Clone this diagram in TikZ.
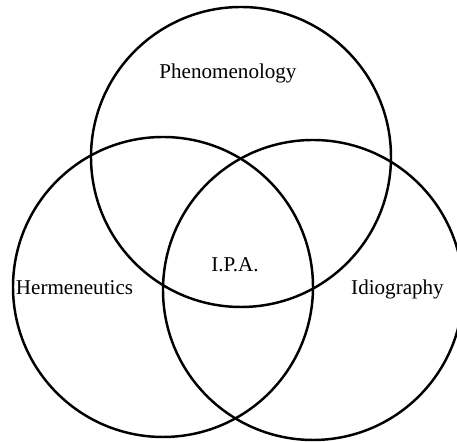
\documentclass[tikz,border=0pt]{standalone}
\usepackage{fontspec}
\setmainfont{Liberation Serif}
\tikzset{label text/.style={anchor=base,font=\fontsize{12pt}{14pt}\selectfont}}
\begin{document}
\begin{tikzpicture}
\useasboundingbox (0,0) rectangle (9.14,8.84);

%Circles
\foreach \x/\y in
{
4.82/5.70,
3.26/3.10,
6.26/3.04
}
{
	\draw[line width=1.4pt] (\x,\y) circle (3);
}

%Labels
\node[label text] (phen) at (4.56,7.26) {Phenomenology};
\node[label text] (herm) at (1.49,2.94) {Hermeneutics};
\node[label text] (idio) at (7.95,2.94) {Idiography};
\node[label text] (ipa) at (4.70,3.40) {I.P.A.};

\end{tikzpicture}
\end{document}
